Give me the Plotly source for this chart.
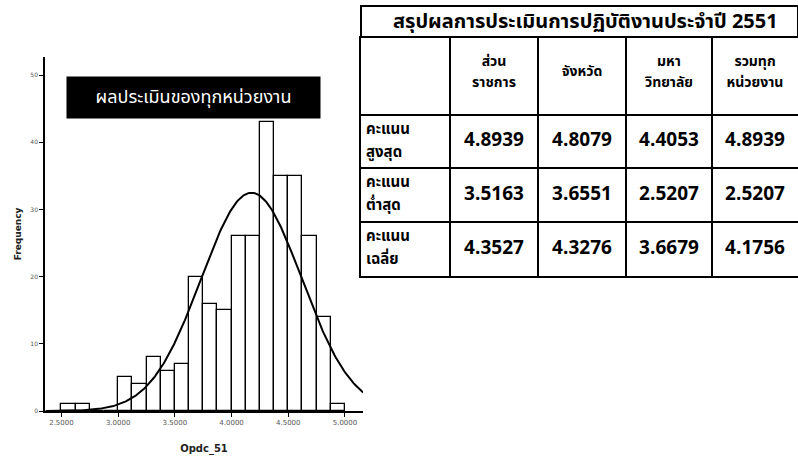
import numpy as np
import plotly.graph_objects as go

# ---------------- data ----------------
bin_starts = [2.5, 2.625, 2.75, 2.875, 3.0, 3.125, 3.25, 3.375, 3.5, 3.625,
              3.75, 3.875, 4.0, 4.125, 4.25, 4.375, 4.5, 4.625, 4.75, 4.875]
bin_counts = [1, 1, 0, 0, 5, 4, 8, 6, 7, 20, 16, 15, 26, 26, 43, 35, 35, 26, 14, 1]
bin_width = 0.125
fit_mean = 4.1756
fit_sd = 0.4435

x_ticks = [2.5, 3.0, 3.5, 4.0, 4.5, 5.0]
y_ticks = [0, 10, 20, 30, 40, 50]

box_label = "ผลประเมินของทุกหน่วยงาน"
table_title = "สรุปผลการประเมินการปฏิบัติงานประจำปี 2551"
col_headers = [["ส่วน", "ราชการ"], ["จังหวัด"], ["มหา", "วิทยาลัย"], ["รวมทุก", "หน่วยงาน"]]
row_labels = [["คะแนน", "สูงสุด"], ["คะแนน", "ต่ำสุด"], ["คะแนน", "เฉลี่ย"]]
val_sector = ["4.8939", "3.5163", "4.3527"]
val_province = ["4.8079", "3.6551", "4.3276"]
val_university = ["4.4053", "2.5207", "3.6679"]
val_all = ["4.8939", "2.5207", "4.1756"]

# ---------------- figure ----------------
W, H = 798, 457
THAI = "Tahoma, 'Noto Sans Thai', 'Noto Sans Thai UI', 'Loma', 'Garuda', 'Noto Sans', 'DejaVu Sans', sans-serif"

fig = go.Figure()

centers = [b + bin_width / 2 for b in bin_starts]
fig.add_trace(go.Bar(
    x=centers, y=bin_counts, width=bin_width,
    marker=dict(color="white", line=dict(color="black", width=1.3)),
    showlegend=False, hoverinfo="x+y",
))

n_total = sum(bin_counts)
xs = np.linspace(2.36, 5.16, 300)
ys = n_total * bin_width / (fit_sd * np.sqrt(2 * np.pi)) * np.exp(-0.5 * ((xs - fit_mean) / fit_sd) ** 2)
fig.add_trace(go.Scatter(x=xs, y=ys, mode="lines",
                         line=dict(color="black", width=2), showlegend=False, hoverinfo="skip"))

# ---------------- table (drawn on its own axes) ----------------
col_w = [89, 88, 88, 86, 86]          # column widths (px)
row_h = [77, 53, 54, 54]              # header + 3 body rows (px)
header_spacing, header_shift = 21, -4
label_spacing = 23
col_edges = np.concatenate([[0], np.cumsum(col_w)])
row_edges = np.concatenate([[0], np.cumsum(row_h)])
col_mid = (col_edges[:-1] + col_edges[1:]) / 2
row_mid = (row_edges[:-1] + row_edges[1:]) / 2


def stacked_lines(groups, xs_, ys_, spacing):
    px, py, pt = [], [], []
    for lines, x0, y0 in zip(groups, xs_, ys_):
        n = len(lines)
        for i, t in enumerate(lines):
            px.append(x0)
            py.append(y0 + (i - (n - 1) / 2) * spacing)
            pt.append("<b>" + t + "</b>")
    return px, py, pt


# header texts
hx, hy, ht = stacked_lines(col_headers, col_mid[1:], [row_mid[0] + header_shift] * 4, header_spacing)
fig.add_trace(go.Scatter(
    x=hx, y=hy, xaxis="x2", yaxis="y2", mode="text", text=ht,
    textposition="middle center", textfont=dict(family=THAI, size=14, color="black"),
    showlegend=False, hoverinfo="skip", cliponaxis=False,
))
# row labels (left aligned, two lines)
lx, ly, lt = stacked_lines(row_labels, [col_edges[0] + 5] * 3, row_mid[1:], label_spacing)
fig.add_trace(go.Scatter(
    x=lx, y=ly, xaxis="x2", yaxis="y2", mode="text", text=lt,
    textposition="middle right", textfont=dict(family=THAI, size=15, color="black"),
    showlegend=False, hoverinfo="skip", cliponaxis=False,
))
# values
for ci, vals in enumerate([val_sector, val_province, val_university, val_all], start=1):
    fig.add_trace(go.Scatter(
        x=[col_mid[ci]] * 3, y=list(row_mid[1:]), xaxis="x2", yaxis="y2",
        mode="text", text=["<b>" + v + "</b>" for v in vals],
        textposition="middle center", textfont=dict(family=THAI, size=19, color="black"),
        showlegend=False, hoverinfo="text", cliponaxis=False,
    ))

x_dom = [45 / W, 363 / W]
y_dom = [1 - 411 / H, 1 - 57 / H]
tx0 = 361 / W
t_top, t_title_bottom = 6, 38

fig.update_layout(
    width=W, height=H,
    margin=dict(l=0, r=0, t=0, b=0, autoexpand=False),
    paper_bgcolor="white", plot_bgcolor="white",
    bargap=0,
    xaxis=dict(domain=x_dom, range=[2.355, 5.159], tickvals=x_ticks,
               ticktext=["%.4f" % v for v in x_ticks],
               showgrid=False, zeroline=False, showline=True, linecolor="black", linewidth=1.6,
               ticks="outside", ticklen=4, tickcolor="black", tickwidth=1,
               tickfont=dict(size=7, color="#555", family="DejaVu Sans"),
               title=dict(text="<b>Opdc_51</b>", font=dict(size=10, color="#222", family="DejaVu Sans"),
                          standoff=19)),
    yaxis=dict(domain=y_dom, range=[0, 52.7], tickvals=y_ticks,
               showgrid=False, zeroline=False, showline=True, linecolor="black", linewidth=1.6,
               ticks="outside", ticklen=4, tickcolor="black", tickwidth=1,
               tickfont=dict(size=6, color="#555", family="DejaVu Sans"),
               title=dict(text="<b>Frequency</b>", font=dict(size=9, color="#222", family="DejaVu Sans"),
                          standoff=7)),
    xaxis2=dict(domain=[tx0, 1.0], anchor="y2", range=[0, col_edges[-1]],
                tickvals=list(col_edges[1:-1]), showticklabels=False, ticks="",
                showgrid=True, gridcolor="black", gridwidth=1.6, zeroline=False,
                showline=True, mirror=True, linecolor="black", linewidth=2, fixedrange=True),
    yaxis2=dict(domain=[1 - (t_title_bottom + row_edges[-1]) / H, 1 - t_title_bottom / H],
                anchor="x2", range=[row_edges[-1], 0],
                tickvals=list(row_edges[1:-1]), showticklabels=False, ticks="",
                showgrid=True, gridcolor="black", gridwidth=1.6, zeroline=False,
                showline=True, mirror=True, linecolor="black", linewidth=2, fixedrange=True),
)

fig.add_annotation(
    x=193.5 / W, y=1 - 97.5 / H, xref="paper", yref="paper",
    text=box_label, showarrow=False,
    font=dict(color="white", size=18, family=THAI),
    bgcolor="black", width=249, height=37, borderpad=2,
    xanchor="center", yanchor="middle",
)

# title row of the table
fig.add_shape(type="rect", xref="paper", yref="paper",
              x0=tx0, x1=1.0, y0=1 - t_title_bottom / H, y1=1 - t_top / H,
              line=dict(color="black", width=2), fillcolor="white", layer="below")
fig.add_annotation(x=585 / W, y=1 - 22 / H, xref="paper", yref="paper",
                   text="<b>" + table_title + "</b>", showarrow=False,
                   font=dict(family=THAI, size=20, color="black"),
                   xanchor="center", yanchor="middle")

fig.write_html("out.html", config={"displayModeBar": False},
               post_script="document.body.style.margin='0';document.body.style.overflow='hidden';")
